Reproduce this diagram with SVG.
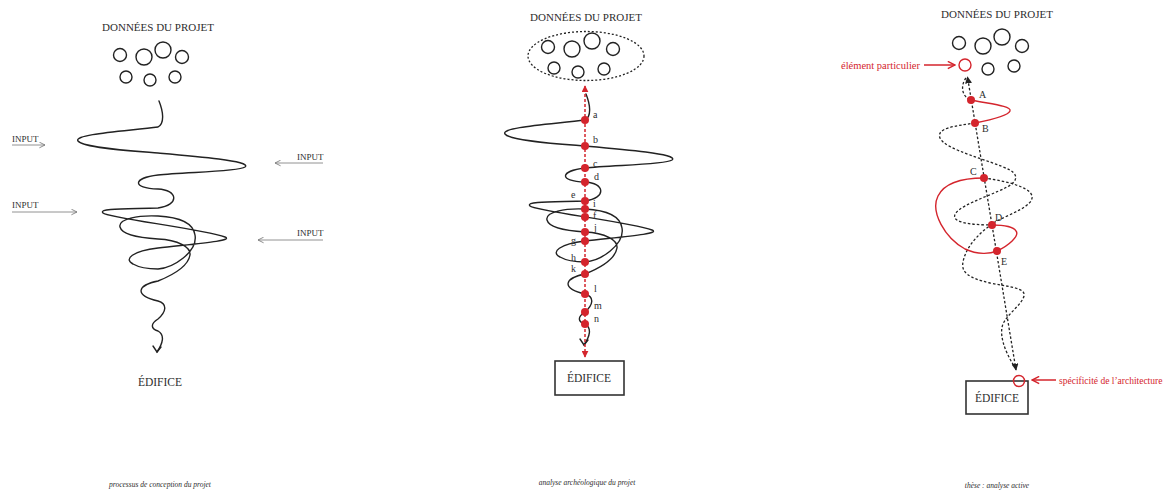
<svg xmlns="http://www.w3.org/2000/svg" xmlns:xlink="http://www.w3.org/1999/xlink" width="1167" height="492" viewBox="0 0 1167 492">
<style>
.t{font-family:"Liberation Serif","Times New Roman",serif;fill:#2e2e2e}
.title{font-size:11px;text-anchor:middle}
.cap{font-size:7.5px;font-style:italic;text-anchor:middle}
.lbl{font-size:10px}
.inp{font-size:9px}
.red{fill:#d4252d}
.data{fill:none;stroke:#222;stroke-width:1.4}
.sq{fill:none;stroke:#222;stroke-width:1.4;stroke-linecap:round}
.dot{fill:#d4252d}
.dotted{fill:none;stroke:#222;stroke-width:1.3;stroke-dasharray:2.5 2}
.redc{fill:none;stroke:#d4252d;stroke-width:1.4}
.box{fill:#fff;stroke:#333;stroke-width:1.6}
.inarr{fill:none;stroke:#777;stroke-width:0.8}
</style>
<defs>
<marker id="openArr" viewBox="0 0 10 10" refX="9" refY="5" markerWidth="7" markerHeight="7" markerUnits="userSpaceOnUse" orient="auto">
<path d="M1 1 L9 5 L1 9" fill="none" stroke="#777" stroke-width="1.2"/>
</marker>
<marker id="redOpen" viewBox="0 0 10 10" refX="9" refY="5" markerWidth="9" markerHeight="9" markerUnits="userSpaceOnUse" orient="auto">
<path d="M1 1 L9 5 L1 9" fill="none" stroke="#d4252d" stroke-width="1.6"/>
</marker>
<marker id="redTri" viewBox="0 0 10 10" refX="9" refY="5" markerWidth="7" markerHeight="7" markerUnits="userSpaceOnUse" orient="auto-start-reverse">
<path d="M0 0 L10 5 L0 10 Z" fill="#d4252d"/>
</marker>
<marker id="blkTri" viewBox="0 0 10 10" refX="9" refY="5" markerWidth="7" markerHeight="7" markerUnits="userSpaceOnUse" orient="auto-start-reverse">
<path d="M0 0 L10 5 L0 10 Z" fill="#222"/>
</marker>
<g id="squiggle">
<path class="sq" d="M 586 94 C 590 104, 592 116, 585 120 C 555 124, 500 127, 505 134 C 510 141, 560 144, 585 146 C 620 149, 680 154, 672 160 C 665 165, 610 165, 585 168 C 560 171, 558 181, 585 182 C 605 183, 607 198, 585 201 C 555 202, 525 201, 530 206 C 535 211, 630 222, 652 230 C 662 234, 620 237, 585 241 C 560 244, 550 252, 560 257 C 567 261, 578 262, 585 262 C 600 261, 625 245, 622 228 C 620 215, 605 210, 585 209 C 565 208, 545 212, 547 220 C 549 228, 570 231, 585 232 C 605 233, 618 240, 617 248 C 615 260, 600 268, 585 274 C 565 278, 560 288, 585 294 C 595 297, 593 305, 585 312 C 577 317, 578 322, 585 324 C 592 328, 590 336, 584 345"/>
<path class="sq" d="M 580 339 L 584 345 L 588 340"/>
</g>
</defs>
<rect width="1167" height="492" fill="#fff"/>

<!-- LEFT PANEL -->
<g id="left-data">
<text class="t title" x="158" y="31">DONNÉES DU PROJET</text>
<circle class="data" cx="120" cy="55" r="6.5"/>
<circle class="data" cx="144" cy="57" r="8"/>
<circle class="data" cx="163" cy="50" r="8"/>
<circle class="data" cx="182" cy="57" r="6.5"/>
<circle class="data" cx="126" cy="77" r="6"/>
<circle class="data" cx="150" cy="80" r="6"/>
<circle class="data" cx="175" cy="77" r="6"/>
</g>
<g id="left-inputs">
<text class="t inp" x="12" y="142">INPUT</text>
<line class="inarr" x1="12" y1="145" x2="45" y2="145" marker-end="url(#openArr)"/>
<text class="t inp" x="297" y="160">INPUT</text>
<line class="inarr" x1="323" y1="163" x2="275" y2="163" marker-end="url(#openArr)"/>
<text class="t inp" x="12" y="208">INPUT</text>
<line class="inarr" x1="12" y1="212" x2="77" y2="212" marker-end="url(#openArr)"/>
<text class="t inp" x="297" y="236">INPUT</text>
<line class="inarr" x1="323" y1="240" x2="258" y2="240" marker-end="url(#openArr)"/>
</g>
<g id="left-process">
<use xlink:href="#squiggle" href="#squiggle" transform="translate(-427,7)"/>
</g>
<g id="left-edifice">
<text class="t" x="160" y="386" font-size="11.5" text-anchor="middle">ÉDIFICE</text>
</g>
<text class="t cap" x="160" y="487">processus de conception du projet</text>

<!-- MIDDLE PANEL -->
<g id="mid-data">
<text class="t title" x="586" y="21">DONNÉES DU PROJET</text>
<ellipse cx="586" cy="56" rx="58" ry="24.5" fill="none" stroke="#222" stroke-width="1.3" stroke-dasharray="2 2"/>
<circle class="data" cx="548" cy="47" r="6.5"/>
<circle class="data" cx="572" cy="49" r="8"/>
<circle class="data" cx="592" cy="41" r="8"/>
<circle class="data" cx="613" cy="49" r="6.5"/>
<circle class="data" cx="554" cy="68" r="6"/>
<circle class="data" cx="578" cy="72" r="6"/>
<circle class="data" cx="604" cy="69" r="6"/>
</g>
<g id="mid-connectors">
<use xlink:href="#squiggle" href="#squiggle"/>
<line x1="585" y1="357" x2="585" y2="86" stroke="#d4252d" stroke-width="1.5" stroke-dasharray="3 2" marker-start="url(#redTri)" marker-end="url(#redTri)"/>
</g>
<g id="mid-points">
<circle class="dot" cx="585" cy="120" r="4"/>
<circle class="dot" cx="585" cy="146" r="4"/>
<circle class="dot" cx="585" cy="168" r="4"/>
<circle class="dot" cx="585" cy="182" r="4"/>
<circle class="dot" cx="585" cy="201" r="4"/>
<circle class="dot" cx="585" cy="209" r="4"/>
<circle class="dot" cx="585" cy="217" r="4"/>
<circle class="dot" cx="585" cy="232" r="4"/>
<circle class="dot" cx="585" cy="241" r="4"/>
<circle class="dot" cx="585" cy="262" r="4"/>
<circle class="dot" cx="585" cy="274" r="4"/>
<circle class="dot" cx="585" cy="294" r="4"/>
<circle class="dot" cx="585" cy="312" r="4"/>
<circle class="dot" cx="585" cy="324" r="4"/>
<text class="t lbl" x="593" y="118">a</text>
<text class="t lbl" x="593" y="143">b</text>
<text class="t lbl" x="593" y="167">c</text>
<text class="t lbl" x="594" y="180">d</text>
<text class="t lbl" x="571" y="198">e</text>
<text class="t lbl" x="593" y="206.5">i</text>
<text class="t lbl" x="593" y="218.5">f</text>
<text class="t lbl" x="594" y="231">j</text>
<text class="t lbl" x="571" y="244">g</text>
<text class="t lbl" x="571" y="261">h</text>
<text class="t lbl" x="571" y="272">k</text>
<text class="t lbl" x="594" y="292">l</text>
<text class="t lbl" x="594" y="309">m</text>
<text class="t lbl" x="594" y="322">n</text>
</g>
<g id="mid-edifice">
<rect class="box" x="555" y="361" width="69" height="34"/>
<text class="t" x="589" y="382" font-size="11.5" text-anchor="middle">ÉDIFICE</text>
</g>
<text class="t cap" x="587" y="485">analyse archéologique du projet</text>

<!-- RIGHT PANEL -->
<g id="right-data">
<text class="t title" x="997" y="18">DONNÉES DU PROJET</text>
<circle class="data" cx="959" cy="43" r="6.5"/>
<circle class="data" cx="983" cy="46" r="8"/>
<circle class="data" cx="1002" cy="37" r="8"/>
<circle class="data" cx="1022" cy="46" r="6.5"/>
<circle cx="965" cy="65" r="6" fill="none" stroke="#d4252d" stroke-width="1.4"/>
<circle class="data" cx="988" cy="69" r="6"/>
<circle class="data" cx="1014" cy="66" r="6"/>
</g>
<g id="right-annotations">
<text class="t red" x="920" y="68.5" font-size="10.5" text-anchor="end">élément particulier</text>
<line x1="924" y1="65" x2="955" y2="65" stroke="#d4252d" stroke-width="1.5" marker-end="url(#redOpen)"/>
<text class="t red" x="1059" y="383.5" font-size="9.5">spécificité de l’architecture</text>
<line x1="1056" y1="380" x2="1032" y2="380" stroke="#d4252d" stroke-width="1.5" marker-end="url(#redOpen)"/>
</g>
<g id="right-connectors">
<path class="dotted" d="M 966 78 C 960 86, 962 97, 971 100"/>
<path class="dotted" d="M 975 123 C 955 126, 936 128, 940 138 C 945 150, 990 160, 1010 170 C 1020 176, 1016 183, 1005 188 C 990 196, 950 208, 955 218 C 958 224, 980 225, 992 225"/>
<path class="dotted" d="M 984 178 C 1000 180, 1030 186, 1032 196 C 1034 206, 1010 214, 995 222 C 980 232, 966 246, 963 262 C 961 272, 968 278, 990 283 C 1010 287, 1026 288, 1024 296 C 1022 304, 1010 312, 1004 322 C 998 332, 1004 350, 1014 366"/>
<path class="redc" d="M 971 100 C 990 104, 1012 106, 1010 111 C 1008 116, 990 120, 975 123"/>
<path class="redc" d="M 984 178 C 965 178, 945 182, 938 196 C 930 212, 945 238, 965 249 C 978 255, 990 254, 997 251 C 1008 246, 1020 236, 1016 231 C 1013 226, 1000 225, 992 225"/>
<line class="dotted" x1="1016" y1="370" x2="967.5" y2="77" marker-start="url(#blkTri)" marker-end="url(#blkTri)"/>
</g>
<g id="right-points">
<circle class="dot" cx="971" cy="100" r="4"/>
<circle class="dot" cx="975" cy="123" r="4"/>
<circle class="dot" cx="984" cy="178" r="4"/>
<circle class="dot" cx="992" cy="225" r="4"/>
<circle class="dot" cx="997" cy="251" r="4"/>
<text class="t lbl" x="979" y="98">A</text>
<text class="t lbl" x="982" y="132">B</text>
<text class="t lbl" x="970" y="175">C</text>
<text class="t lbl" x="995" y="221">D</text>
<text class="t lbl" x="1001" y="265">E</text>
</g>
<g id="right-edifice">
<rect class="box" x="966" y="381" width="62" height="33"/>
<circle cx="1019" cy="381" r="5.5" fill="none" stroke="#d4252d" stroke-width="1.4"/>
<text class="t" x="997" y="402" font-size="11.5" text-anchor="middle">ÉDIFICE</text>
</g>
<text class="t cap" x="997" y="488">thèse : analyse active</text>
</svg>
